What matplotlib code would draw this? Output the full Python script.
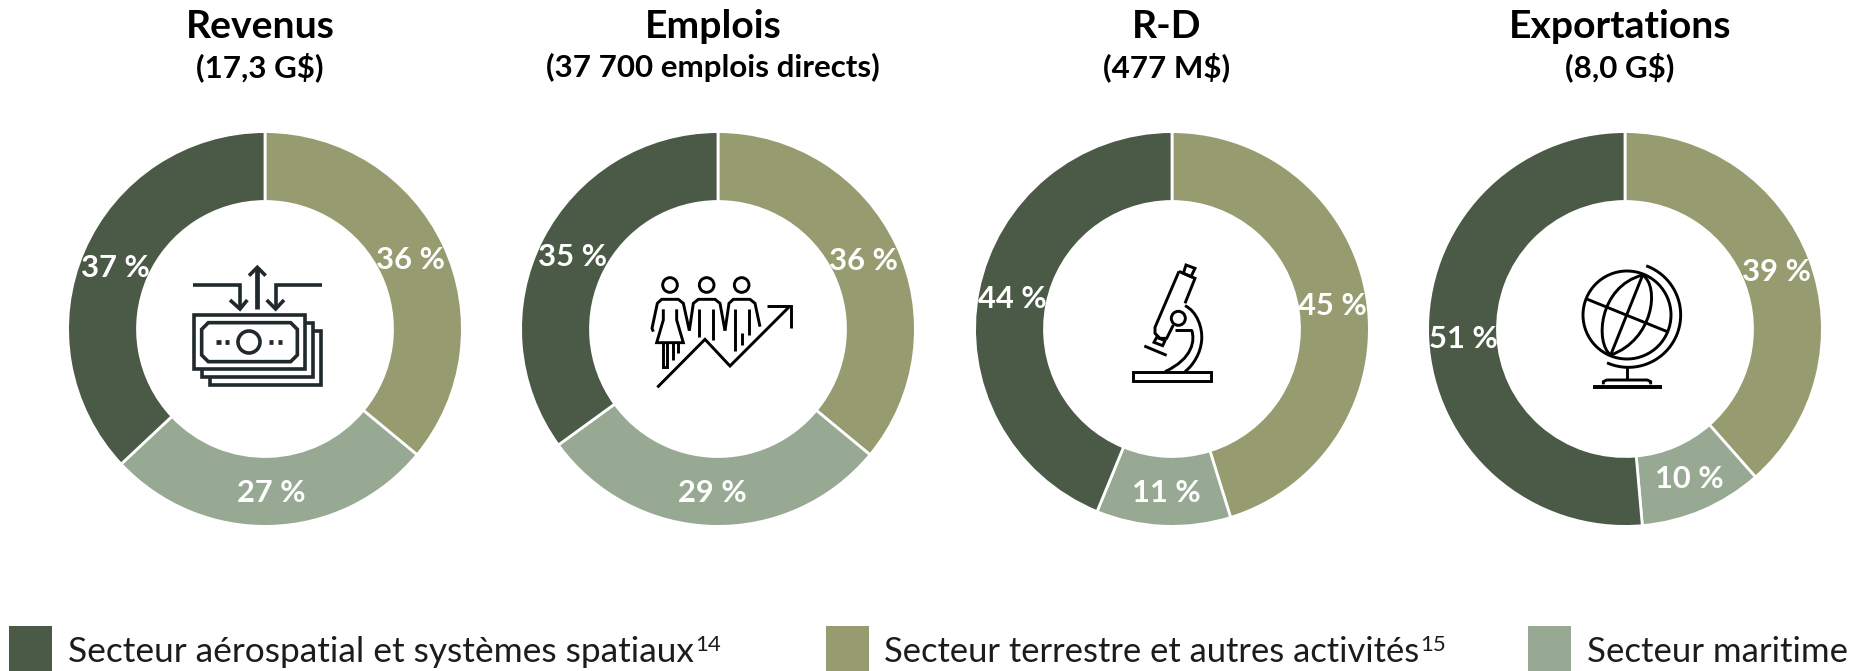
#!/usr/bin/env python3
"""Parts des secteurs : quatre anneaux avec icones et legende."""

import matplotlib
matplotlib.use("Agg")
import matplotlib.pyplot as plt
import numpy as np
from matplotlib.path import Path
from matplotlib.patches import Circle, PathPatch, Polygon, Rectangle

W, H = 1871, 671

titles = ["Revenus", "Emplois", "R-D", "Exportations"]
subtitles = ["(17,3 G$)", "(37 700 emplois directs)", "(477 M$)", "(8,0 G$)"]

# sens horaire depuis le haut : terrestre, maritime, aerospatial
# parts lues sur le dessin des anneaux
terrestre = [36, 36, 45.2, 38.5]
maritime = [27, 29, 11, 10.1]
aerospatial = [37, 35, 43.8, 51.4]

# etiquettes imprimees
terrestre_labels = ["36 %", "36 %", "45 %", "39 %"]
maritime_labels = ["27 %", "29 %", "11 %", "10 %"]
aerospatial_labels = ["37 %", "35 %", "44 %", "51 %"]

legend_labels = [
    "Secteur aérospatial et systèmes spatiaux",
    "Secteur terrestre et autres activités",
    "Secteur maritime",
]
legend_sups = ["14", "15", ""]

DARK = "#4A5A47"
OLIVE = "#979C70"
LIGHT = "#97A993"
colors = [OLIVE, LIGHT, DARK]

centers = [(265, 329), (718, 329), (1172, 329), (1625, 329)]
title_x = [260, 713, 1167, 1620]
R_OUT, R_IN = 197.4, 127.5

# positions des etiquettes en pixels, (terrestre, maritime, aerospatial)
label_pos = [
    [(411, 260), (271, 493), (115, 268)],
    [(864, 261), (712, 493), (573, 257)],
    [(1332, 306), (1166, 493), (1012, 299)],
    [(1777, 272), (1689, 479), (1463, 339)],
]

plt.rcParams["font.family"] = ["Lato", "DejaVu Sans"]
fig = plt.figure(figsize=(W / 100, H / 100), dpi=100)

for i, (cx, cy) in enumerate(centers):
    ax = fig.add_axes(
        [(cx - R_OUT) / W, (H - cy - R_OUT) / H, 2 * R_OUT / W, 2 * R_OUT / H]
    )
    ax.pie(
        [terrestre[i], maritime[i], aerospatial[i]],
        colors=colors,
        startangle=90,
        counterclock=False,
        radius=1,
        wedgeprops=dict(
            width=(R_OUT - R_IN) / R_OUT, edgecolor="white", linewidth=2.0
        ),
    )
    ax.set_xlim(-1, 1)
    ax.set_ylim(-1, 1)

# calque en pixels pour le texte et les icones
top = fig.add_axes([0, 0, 1, 1], zorder=5)
top.set_xlim(0, W)
top.set_ylim(H, 0)
top.axis("off")
top.patch.set_alpha(0)

for i in range(4):
    top.text(title_x[i], 27, titles[i], fontsize=28.2, fontweight="bold",
             ha="center", va="center", color="black")
    top.text(title_x[i], 67, subtitles[i], fontsize=22.5, fontweight="bold",
             ha="center", va="center", color="black")
    shown = [terrestre_labels[i], maritime_labels[i], aerospatial_labels[i]]
    for lab, (x, y) in zip(shown, label_pos[i]):
        top.text(x, y, lab, fontsize=22.2, fontweight="bold",
                 ha="center", va="center", color="white")

# legende
swatch_x = [9.5, 826, 1528]
text_x = [68, 884, 1587]
text_size = [25.4, 24.8, 25.0]
for sx, tx, fs, lab, sup, col in zip(swatch_x, text_x, text_size, legend_labels,
                                     legend_sups, [DARK, OLIVE, LIGHT]):
    top.add_patch(Rectangle((sx, 626), 43, 45, color=col, lw=0))
    t = top.text(tx, 652, lab, fontsize=fs, ha="left", va="center",
                 color="#1c1c1c")
    if sup:
        bb = t.get_window_extent(fig.canvas.get_renderer())
        top.text(bb.x1 + 1, 645, sup, fontsize=16, ha="left", va="center",
                 color="#1c1c1c")


class Icon:
    """Trace en coordonnees de crop (3x) autour d'une origine en pixels."""

    def __init__(self, ox, oy, color="black", lw=2.0):
        self.ox, self.oy, self.color, self.lw = ox, oy, color, lw

    def pt(self, p):
        return (self.ox + p[0] / 3, self.oy + p[1] / 3)

    def line(self, *pts, closed=False, lw=None):
        xy = [self.pt(p) for p in pts]
        top.add_patch(Polygon(xy, closed=closed, fill=False, ec=self.color,
                              lw=lw or self.lw, joinstyle="miter"))

    def circle(self, c, r, fc="none"):
        top.add_patch(Circle(self.pt(c), r / 3, fc=fc, ec=self.color, lw=self.lw))

    def curve(self, start, *segs):
        verts = [self.pt(start)]
        codes = [Path.MOVETO]
        for seg in segs:
            verts += [self.pt(p) for p in seg]
            codes += [Path.CURVE4] * 3
        top.add_patch(PathPatch(Path(verts, codes), fill=False, ec=self.color,
                                lw=self.lw))


# billets
ic = Icon(50, 110, color="#20292B", lw=2.6)
ic.line((430, 525), (570, 525), (570, 595))
ic.line((540, 570), (570, 597), (592, 570))
ic.line((622, 598), (622, 472), lw=3.4)
ic.line((597, 497), (622, 472), (647, 497))
ic.line((815, 525), (677, 525), (677, 595))
ic.line((650, 570), (677, 597), (702, 570))
ic.line((432, 615), (765, 615), (765, 778), (432, 778), closed=True)
ic.line((765, 640), (788, 640), (788, 802), (456, 802), (456, 778))
ic.line((788, 663), (812, 663), (812, 826), (480, 826), (480, 802))
ic.line((475, 638), (722, 638), (742, 658), (742, 735), (722, 755), (475, 755),
        (455, 735), (455, 658), closed=True)
ic.circle((597, 696), 33)
for a, b in [(498, 512), (524, 537), (657, 670), (683, 696)]:
    ic.line((a, 697), (b, 697), lw=3.4)

# personnes et fleche
ic = Icon(630, 260, lw=2.1)
for hx in (120, 230, 335):
    ic.circle((hx, 75), 22)
ic.line((70, 215), (66, 205), (82, 130), (95, 118), (145, 118), (160, 130), (178, 212))
ic.line((100, 148), (100, 180), (80, 248), (160, 248), (140, 180), (140, 148))
ic.line((98, 248), (98, 322), (112, 322), (112, 250))
ic.line((128, 250), (128, 300))
ic.line((143, 250), (143, 280))
ic.line((178, 212), (190, 130), (205, 118), (255, 118), (270, 130), (285, 212))
ic.line((207, 148), (207, 230))
ic.line((250, 148), (250, 240))
ic.line((285, 212), (297, 130), (310, 118), (360, 118), (375, 130), (390, 200))
ic.line((315, 148), (315, 272))
ic.line((358, 148), (358, 225))
ic.line((335, 220), (335, 255))
ic.line((82, 382), (225, 238), (300, 318), (480, 138))
ic.line((412, 138), (482, 138), (482, 205))

# microscope
ic = Icon(1110, 250, lw=2.1)
ic.line((70, 367), (302, 367), (302, 392), (70, 392), closed=True)
ic.line((103, 288), (170, 316))
ic.line((228, 45), (255, 55), (243, 80), (220, 70), closed=True)
ic.line((207, 64), (255, 85), (225, 160))
ic.line((190, 225), (170, 265), (150, 265), (135, 250), (135, 232), (207, 64))
ic.line((140, 262), (165, 272), (158, 287), (132, 277), closed=True)
ic.circle((205, 205), 21)
ic.curve((225, 167), [(262, 185), (278, 235), (275, 270)],
         [(272, 310), (250, 345), (225, 365)])
ic.line((195, 240), (245, 240))
ic.curve((245, 240), [(255, 270), (250, 325), (165, 365)])

# globe
ic = Icon(1560, 250, lw=2.1)
ic.circle((201, 195), 132)
ic.line((248, 75), (152, 315))
ic.line((80, 147), (322, 245))
ic.curve((248, 75), [(115, 110), (105, 280), (152, 315)])
ic.curve((248, 75), [(300, 110), (280, 270), (152, 315)])
angles = np.radians(np.linspace(-70, 114, 60))
ic.line(*[(205 + 157 * np.cos(a), 195 + 157 * np.sin(a)) for a in angles])
ic.line((200, 352), (200, 390))
ic.line((130, 403), (130, 395), (140, 390), (262, 390), (272, 395), (272, 403))
ic.line((100, 411), (305, 411), lw=2.8)

fig.savefig("out.png", dpi=100)
